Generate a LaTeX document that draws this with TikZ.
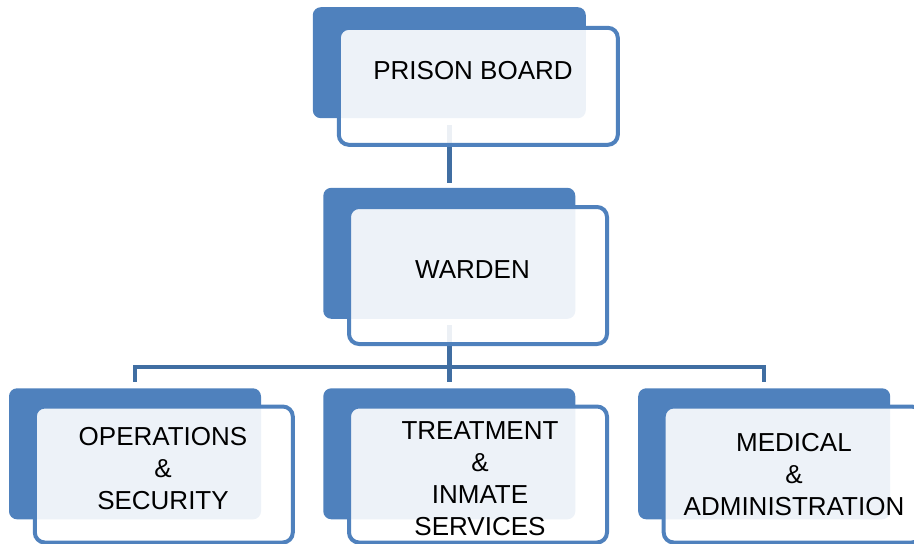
\documentclass[tikz,border=0pt]{standalone}
\usepackage{fontspec}
\setmainfont{Liberation Sans}
\usetikzlibrary{positioning}
\definecolor{boxblue}{RGB}{79,129,189}
\definecolor{linkblue}{RGB}{64,110,162}
\tikzset{
 back/.style={fill=boxblue,rounded corners=8pt,inner sep=0pt,minimum width=252pt,minimum height=131pt},
 frame/.style={draw=boxblue,line width=4pt,fill=white,fill opacity=0.9,rounded corners=10pt,inner sep=0pt,minimum width=258pt,minimum height=136pt},
 link/.style={draw=linkblue,line width=4.5pt,shorten <=6pt,shorten >=6pt},
 lbl/.style={align=center,inner sep=0pt,font=\fontsize{26}{32}\selectfont}
}

\begin{document}
\begin{tikzpicture}[x=1pt,y=-1pt]
 \path[use as bounding box,clip](0,0)rectangle(914,544);
 % blue plates
 \node[back,minimum width=273pt,minimum height=111pt](boardback)at(449.3,62.7){};
 \node[back](wardenback)at(449.3,253.3){};
 \node[back](opsback)at(135,453.8){};
 \node[back](treatback)at(449.3,453.8){};
 \node[back](medback)at(764.2,453.8){};
 % connectors, behind the frames
 \coordinate(bar)at(449.3,367);
 \draw[link,shorten <=7pt,shorten >=5pt](boardback.south)--(wardenback.north);
 \foreach \n in {opsback,treatback,medback}{\draw[link](wardenback.south)--(wardenback.south|-bar)-|(\n.north);}
 % frames
 \node[frame,minimum width=279pt,minimum height=117pt](boardframe)at(478.3,86.3){};
 \node[frame,minimum height=137pt](wardenframe)at(478,275.5){};
 \node[frame](opsframe)at(163.8,474.5){};
 \node[frame](treatframe)at(478,474.5){};
 \node[frame](medframe)at(792.7,474.5){};
 % texts
 \node[lbl](board)at(473,71){PRISON BOARD};
 \node[lbl](warden)at(472.5,270){WARDEN};
 \node[lbl](ops)at(163,468.5){OPERATIONS\\\&\\SECURITY};
 \node[lbl](treat)at(480,478.5){TREATMENT\\\&\\INMATE\\SERVICES};
 \node[lbl](med)at(794,475){MEDICAL\\\&\\ADMINISTRATION};
\end{tikzpicture}
\end{document}
